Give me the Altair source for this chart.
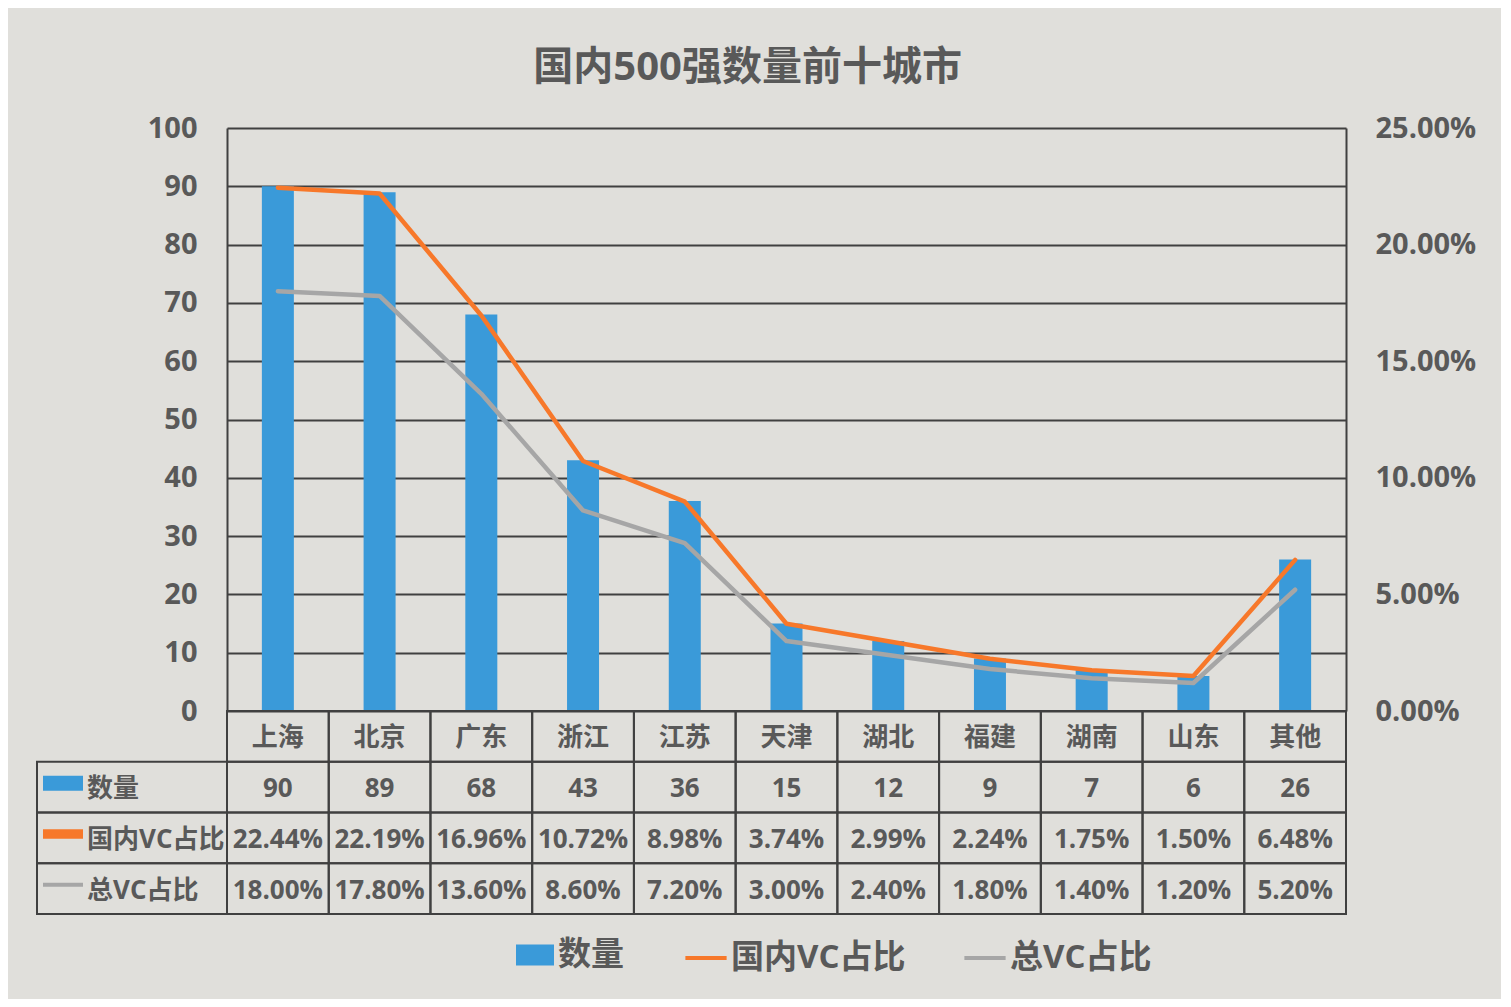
import altair as alt
import pandas as pd

# ---------------- data ----------------
cities = ["上海", "北京", "广东", "浙江", "江苏", "天津", "湖北", "福建", "湖南", "山东", "其他"]
counts = [90, 89, 68, 43, 36, 15, 12, 9, 7, 6, 26]
domestic_pct = [22.44, 22.19, 16.96, 10.72, 8.98, 3.74, 2.99, 2.24, 1.75, 1.50, 6.48]
total_pct = [18.00, 17.80, 13.60, 8.60, 7.20, 3.00, 2.40, 1.80, 1.40, 1.20, 5.20]
series_names = ["数量", "国内VC占比", "总VC占比"]
left_ticks = [0, 10, 20, 30, 40, 50, 60, 70, 80, 90, 100]
right_ticks = [0, 0.05, 0.10, 0.15, 0.20, 0.25]
title_text = "国内500强数量前十城市"
header_key = "类别"

# ---------------- styles ----------------
FONT = "'Open Sans', 'Noto Sans CJK SC', sans-serif"
TXT = "#595959"
GRID = "#404040"
BLUE = "#3a9ad9"
ORANGE = "#f7782a"
GRAY = "#a6a6a6"
BG = "#e0dfdb"
W, H = 1119, 583
TH = 203

bar_df = pd.DataFrame({"city": cities, "count": counts, "series": series_names[0]})
n = len(cities)
line_df = pd.DataFrame({
    "city": cities * 2,
    "idx": list(range(n)) * 2,
    "share": [v / 100 for v in domestic_pct] + [v / 100 for v in total_pct],
    "series": [series_names[1]] * n + [series_names[2]] * n,
})

row_keys = [header_key] + series_names
table_rows = []
for i, c in enumerate(cities):
    table_rows.append({"city": c, "row": header_key, "label": c})
    table_rows.append({"city": c, "row": series_names[0], "label": f"{counts[i]}"})
    table_rows.append({"city": c, "row": series_names[1], "label": f"{domestic_pct[i]:.2f}%"})
    table_rows.append({"city": c, "row": series_names[2], "label": f"{total_pct[i]:.2f}%"})
table_df = pd.DataFrame(table_rows)
head_df = pd.DataFrame({"row": series_names})

x_enc = alt.X("city:N", sort=cities,
              scale=alt.Scale(domain=cities, paddingInner=0, paddingOuter=0),
              axis=None)

label_style = dict(labelFont=FONT, labelFontWeight="bold", labelColor=TXT)

bars = alt.Chart(bar_df).mark_bar(size=32).encode(
    x=x_enc,
    y=alt.Y("count:Q", scale=alt.Scale(domain=[0, 100], nice=False),
            axis=alt.Axis(values=left_ticks, title=None, ticks=False, labelPadding=30,
                          labelFontSize=29, domainColor=GRID, domainWidth=2,
                          gridColor=GRID, gridWidth=2, gridOpacity=1, **label_style)),
    fill=alt.Fill("series:N", scale=alt.Scale(domain=[series_names[0]], range=[BLUE]),
                  legend=alt.Legend(orient="none", legendX=289, legendY=808, title=None,
                                    symbolType="M-1,-0.55H1V0.55H-1Z", symbolSize=1444,
                                    symbolStrokeWidth=0, labelOffset=4, padding=0,
                                    labelFontSize=33, labelLimit=400, **label_style)),
)

lines = alt.Chart(line_df).mark_line(strokeWidth=4.5, strokeJoin="round", strokeCap="round").encode(
    x=x_enc,
    y=alt.Y("share:Q", scale=alt.Scale(domain=[0, 0.25], nice=False),
            axis=alt.Axis(orient="right", values=right_ticks, format=".2%", title=None,
                          ticks=False, grid=False, labelPadding=29, labelFontSize=29,
                          domainColor=GRID, domainWidth=2, **label_style)),
    stroke=alt.Stroke("series:N", scale=alt.Scale(domain=series_names[1:], range=[ORANGE, GRAY]),
                      legend=alt.Legend(orient="none", legendX=456, legendY=807, title=None,
                                        direction="horizontal", symbolType="stroke",
                                        symbolSize=1700, symbolStrokeWidth=4, labelOffset=2,
                                        columnPadding=50, padding=0, labelFontSize=33,
                                        labelLimit=400, **label_style)),
    order="idx:Q",
)

top = alt.layer(bars, lines).resolve_scale(y="independent").properties(width=W, height=H)

y_row = alt.Y("row:N", sort=row_keys,
              scale=alt.Scale(domain=row_keys, paddingInner=0, paddingOuter=0), axis=None)

cells = alt.Chart(table_df).mark_rect(fillOpacity=0, stroke=GRID, strokeWidth=2).encode(
    x=x_enc, y=y_row)
texts = alt.Chart(table_df).mark_text(fontSize=26, font=FONT, fontWeight="bold", color=TXT,
                                      dy=2).encode(
    x=x_enc, y=y_row, text="label:N")
head_cells = alt.Chart(head_df).mark_rect(fillOpacity=0, stroke=GRID, strokeWidth=2).encode(
    x=alt.value(-190), x2=alt.value(0), y=y_row)
head_labels = alt.Chart(head_df).mark_text(fontSize=26, font=FONT, fontWeight="bold", color=TXT,
                                           align="left", dy=2).encode(
    x=alt.value(-140), y=y_row, text="row:N")
head_syms = alt.Chart(head_df).mark_rule(yOffset=-4, strokeCap="butt").encode(
    x=alt.value(-184), x2=alt.value(-144), y=y_row,
    color=alt.Color("row:N", scale=alt.Scale(domain=series_names, range=[BLUE, ORANGE, GRAY]),
                    legend=None),
    strokeWidth=alt.StrokeWidth("row:N", scale=alt.Scale(domain=series_names, range=[15, 4, 4]),
                                legend=None),
)

table = alt.layer(cells, texts, head_cells, head_labels, head_syms).properties(width=W, height=TH)

chart = alt.vconcat(top, table, spacing=0, bounds="flush").properties(
    title=alt.Title(title_text, fontSize=40, font=FONT, fontWeight="bold", color=TXT,
                    anchor="middle", offset=26, dx=-8),
    padding={"left": 27, "top": 40, "right": 25, "bottom": 24},
    background=BG,
).configure_view(stroke=None)

chart.save("out.html", embed_options={"renderer": "svg", "actions": False})
